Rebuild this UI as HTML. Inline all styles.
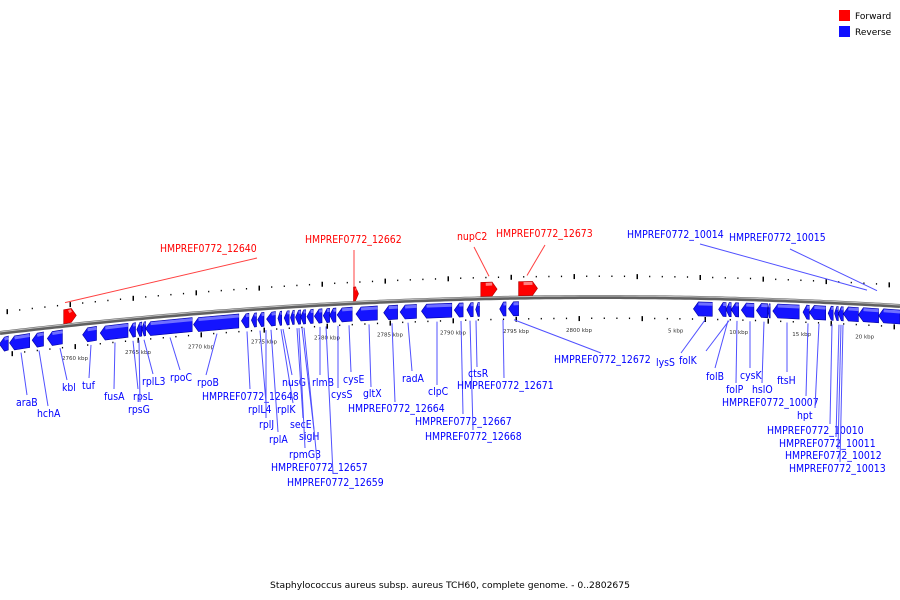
<!DOCTYPE html>
<html><head><meta charset="utf-8"><style>
html,body{margin:0;padding:0;background:#fff;}
svg{display:block;font-family:"DejaVu Sans","Liberation Sans",sans-serif;}
</style></head><body>
<svg id="chart" width="900" height="600" viewBox="0 0 900 600">
<g id="legend">
 <rect x="839" y="10" width="11" height="11" fill="#ff0000"/>
 <text x="855" y="19" font-size="9" fill="#000">Forward</text>
 <rect x="839" y="26" width="11" height="11" fill="#1010ff"/>
 <text x="855" y="35" font-size="9" fill="#000">Reverse</text>
</g>
<text x="450" y="588" font-size="9.2" text-anchor="middle" fill="#000">Staphylococcus aureus subsp. aureus TCH60, complete genome. - 0..2802675</text>
<g id="ticks"></g><g id="backbone"></g><g id="genes"></g><g id="labels"></g>
</svg>
<script>
const GENOME_KBP = 2802.675;
// reverse-strand genes (kbp, start/end; values < 100 are after origin wrap)
const reverseStarts = [2754.4,2755.2,2757.0,2758.2,2761.0,2762.4,2764.7,2765.3,2765.7,2766.0,2769.8,2773.6,2774.4,2774.9,2775.6,2776.5,2777.0,2777.5,2777.9,2778.3,2778.8,2779.4,2780.1,2780.6,2781.2,2782.7,2784.9,2786.2,2787.9,2790.5,2791.5,2792.2,2794.1,2794.8,6.8,8.8,9.4,9.8,10.6,11.8,12.7,13.1,15.5,16.0,17.5,18.0,18.3,18.7,19.9,21.5];
const reverseEnds   = [2755.1,2756.8,2757.9,2759.4,2762.1,2764.6,2765.2,2765.7,2766.0,2769.7,2773.4,2774.2,2774.8,2775.4,2776.3,2776.8,2777.4,2777.8,2778.3,2778.7,2779.3,2780.0,2780.6,2781.1,2782.4,2784.4,2786.0,2787.5,2790.3,2791.2,2792.0,2792.5,2794.6,2795.6,8.3,9.4,9.8,10.4,11.6,12.7,12.9,15.2,16.0,17.3,17.9,18.3,18.7,19.9,21.5,23.2];
const forwardStarts = [2759.5,2782.5,2792.6,2795.6];
const forwardEnds   = [2760.5,2782.9,2793.9,2797.1];
const tickStartKbp = 2754, tickEndKbp = 2826;
const majorLabels = ["2760 kbp","2765 kbp","2770 kbp","2775 kbp","2780 kbp","2785 kbp","2790 kbp","2795 kbp","2800 kbp","5 kbp","10 kbp","15 kbp","20 kbp"];
const majorLabelKbp = [2760,2765,2770,2775,2780,2785,2790,2795,2800,5,10,15,20];

const NS="http://www.w3.org/2000/svg";
function lin(p){ if(p<100) p+=GENOME_KBP; return 70+(p-2760)*12.6; }
function B(x){ return 297+1e-4*(x-600)*(x-600); }
function mk(tag,attrs,parent){const e=document.createElementNS(NS,tag);for(const k in attrs)e.setAttribute(k,attrs[k]);parent.appendChild(e);return e;}

// backbone
const bb=document.getElementById('backbone');
let d="";for(let x=0;x<=900;x+=5){d+=(x?"L":"M")+x+","+B(x).toFixed(1);}
const b1=mk('path',{d:d,fill:'none',stroke:'#606060','stroke-width':4},bb);


const b2=mk('path',{d:d,fill:'none',stroke:'#c0c0c0','stroke-width':1,transform:'translate(0,-1)'},bb);



// ticks
const tg=document.getElementById('ticks');
for(let k=tickStartKbp;k<=tickEndKbp;k++){
  const xx=70+(k-2760)*12.6;
  if(xx<0||xx>900) continue;
  const maj=((k%5)===0);
  const yb=B(xx);
  const h=maj?4:1;
  const t1=mk('rect',{x:xx-0.5,y:yb-21-h/2,width:maj?1.5:1.2,height:maj?5:1.5,fill:'#000'},tg);
  
  
  const t2=mk('rect',{x:xx+4.5,y:yb+21-h/2,width:maj?1.5:1.2,height:maj?5:1.5,fill:'#000'},tg);
  
  
}
majorLabels.forEach((s,i)=>{const x=lin(majorLabelKbp[i]);
  const t=mk('text',{x:x+5,y:B(x)+35,'font-size':5.5,fill:'#333','text-anchor':'middle'},tg);t.textContent=s;
  
  });

// genes
const gg=document.getElementById('genes');
function gene(s,e,rev){
  let x1=lin(s),x2=lin(e); if(x2<x1){const t=x1;x1=x2;x2=t;}
  const head=Math.min(5,(x2-x1)*0.6);
  const off=rev?[4,18]:[-16,-2];
  const y=x=>B(x);
  let pts;
  if(rev) pts=[[x1,(y(x1)+off[0]+y(x1)+off[1])/2],[x1+head,y(x1)+off[0]],[x2,y(x2)+off[0]],[x2,y(x2)+off[1]],[x1+head,y(x1)+off[1]]];
  else pts=[[x1,y(x1)+off[0]],[x2-head,y(x2)+off[0]],[x2,(y(x2)+off[0]+y(x2)+off[1])/2],[x2-head,y(x2)+off[1]],[x1,y(x1)+off[1]]];
  const p=mk('polygon',{points:pts.map(q=>q[0].toFixed(1)+','+q[1].toFixed(1)).join(' '),fill:rev?'#1414ff':'#ff0000',stroke:rev?'#0000a0':'#b00000','stroke-width':0.6},gg);
  
  
  const hl=mk('line',{x1:x1+head,y1:y(x1)+off[0]+2,x2:x2-(rev?0:head),y2:y(x2)+off[0]+2,stroke:rev?'#7070ff':'#ff8080','stroke-width':3},gg);
  
  
}
reverseStarts.forEach((s,i)=>gene(s,reverseEnds[i],true));
forwardStarts.forEach((s,i)=>gene(s,forwardEnds[i],false));

// labels: text, textX, baseline, lineEndX, lineEndY, geneX, geneY-offset, color
const L=[
["araB",16,406,27,395,21,22,'b'],["hchA",37,417,48,406,39,22,'b'],["kbl",62,391,67,380,60,22,'b'],["tuf",82,389,89,378,91,22,'b'],
["fusA",104,400,114,389,115,22,'b'],["rpsL",133,400,138,389,133,22,'b'],["rpsG",128,413,140,402,139,22,'b'],["rplL3",142,385,153,374,144,22,'b'],
["rpoC",170,381,180,370,170,22,'b'],["rpoB",197,386,206,375,217,22,'b'],["HMPREF0772_12648",202,400,250,389,247,22,'b'],
["rplL4",248,413,266,403,260,22,'b'],["rplK",277,413,293,403,281,22,'b'],["nusG",282,386,292,375,283,22,'b'],["rplJ",259,428,266,418,266,22,'b'],
["rplA",269,443,278,432,271,22,'b'],["secE",290,428,303,418,297,22,'b'],["sigH",299,440,314,430,302,22,'b'],["rpmG3",289,458,305,448,299,22,'b'],
["rlmB",312,386,320,375,320,22,'b'],["HMPREF0772_12657",271,471,317,460,304,22,'b'],["HMPREF0772_12659",287,486,333,474,326,22,'b'],
["cysS",331,398,338,388,338,22,'b'],["cysE",343,383,351,372,349,22,'b'],["gltX",363,397,371,387,369,22,'b'],
["HMPREF0772_12664",348,412,395,402,392,22,'b'],["radA",402,382,412,371,408,22,'b'],["clpC",428,395,437,385,437,22,'b'],
["HMPREF0772_12667",415,425,463,414,461,22,'b'],["HMPREF0772_12668",425,440,473,430,470,22,'b'],["ctsR",468,377,477,367,476,22,'b'],
["HMPREF0772_12671",457,389,504,378,503,22,'b'],["HMPREF0772_12672",554,363,601,353,514,22,'b'],
["lysS",656,366,681,353,705,22,'b'],["folK",679,364,706,351,729,22,'b'],["folB",706,380,715,368,728,22,'b'],["folP",726,393,736,383,737,22,'b'],
["cysK",740,379,750,368,750,22,'b'],["hslO",752,393,762,383,764,22,'b'],["ftsH",777,384,787,372,787,22,'b'],
["HMPREF0772_10007",722,406,806,396,808,22,'b'],["hpt",797,419,815,408,819,22,'b'],["HMPREF0772_10010",767,434,830,424,832,22,'b'],
["HMPREF0772_10011",779,447,836,437,839,22,'b'],["HMPREF0772_10012",785,459,838,449,841,22,'b'],["HMPREF0772_10013",789,472,840,462,843,22,'b'],
["HMPREF0772_12640",160,252,257,258,65,-23,'r'],["HMPREF0772_12662",305,243,354,250,354,-16,'r'],["nupC2",457,240,474,247,489,-22,'r'],
["HMPREF0772_12673",496,237,545,245,527,-22,'r'],["HMPREF0772_10014",627,238,700,244,867,-14,'b'],["HMPREF0772_10015",729,241,790,249,877,-14,'b']
];
const lg=document.getElementById('labels');
L.forEach(a=>{
  const col=a[7]==='r'?'#ff0000':'#0000ff';
  const ln=mk('line',{x1:a[5],y1:B(a[5])+a[6],x2:a[3],y2:a[4],stroke:a[7]==='r'?'#ff4040':'#5050ff','stroke-width':1},lg);
  
  
  const t=mk('text',{x:a[1],y:a[2],'font-size':10.5,fill:col},lg);t.textContent=a[0];
  
  
  const w=t.getComputedTextLength();
  if(w>0){t.setAttribute('textLength',(w*0.89).toFixed(1));t.setAttribute('lengthAdjust','spacingAndGlyphs');}
});
</script>
</body></html>
